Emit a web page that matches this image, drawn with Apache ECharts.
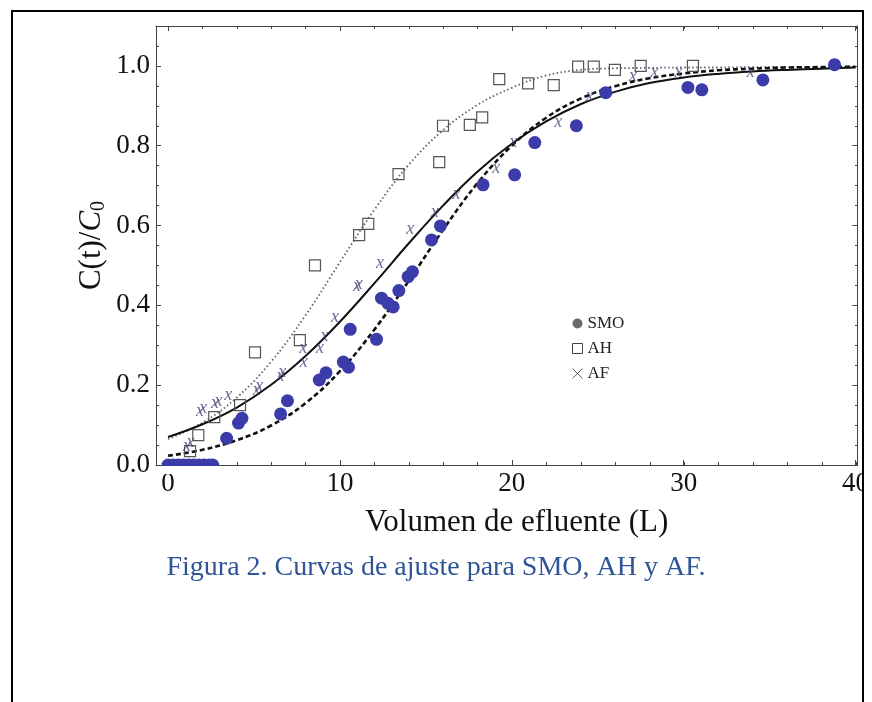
<!DOCTYPE html>
<html><head><meta charset="utf-8">
<script src="https://cdn.jsdelivr.net/npm/echarts@6/dist/echarts.min.js"></script>
<style>html,body{margin:0;padding:0;background:#fff}#c{width:872px;height:702px}</style>
</head><body><div id="c"></div>
<script>
// ---- data ----
const curveX   = [0,2,4,6,8,10,12,14,16,18,20,22,24,26,28,30,32,34,36,38,40];
const fitAF    = [0.070,0.102,0.144,0.201,0.273,0.359,0.455,0.555,0.650,0.735,0.805,0.861,0.904,0.935,0.957,0.971,0.980,0.986,0.990,0.993,0.996]; // solid
const fitSMO   = [0.023,0.038,0.062,0.099,0.155,0.235,0.339,0.461,0.589,0.706,0.800,0.870,0.918,0.949,0.969,0.981,0.989,0.993,0.996,0.997,0.998]; // dashed
const fitAH    = [0.065,0.106,0.169,0.259,0.375,0.508,0.639,0.752,0.839,0.902,0.945,0.976,0.990,0.994,0.995,0.996,0.996,0.997,0.997,0.997,0.997]; // dotted

const smoX = [0,0.3,0.6,0.9,1.2,1.5,1.8,2.1,2.4,2.6,3.41,4.1,4.3,6.55,6.95,8.8,9.19,10.2,10.5,10.6,12.13,12.42,12.8,13.1,13.43,13.97,14.22,15.33,15.85,18.33,20.17,21.34,23.76,25.47,30.25,31.06,34.61,38.78];
const smoY = [0,0,0,0,0,0,0,0,0,0,0.067,0.105,0.117,0.128,0.161,0.213,0.231,0.258,0.245,0.340,0.315,0.418,0.405,0.396,0.437,0.472,0.484,0.564,0.599,0.702,0.727,0.808,0.850,0.933,0.946,0.940,0.965,1.003];

const ahX = [1.28,1.76,2.69,4.19,5.06,7.67,8.55,11.12,11.65,13.41,15.78,16.0,17.56,18.28,19.27,20.95,22.44,23.86,24.77,26.0,27.5,30.54];
const ahY = [0.035,0.075,0.120,0.150,0.282,0.313,0.500,0.576,0.604,0.729,0.759,0.850,0.852,0.871,0.967,0.956,0.952,0.998,0.998,0.990,1.000,1.000];

const afX = [1.1,1.3,1.86,2.05,2.73,2.93,3.5,5.16,5.3,6.55,6.65,7.87,7.9,8.84,9.1,9.71,11.0,11.1,12.33,14.1,15.52,16.78,19.1,20.08,22.7,24.53,27.05,28.3,29.7,33.9];
const afY = [0.040,0.050,0.128,0.134,0.146,0.153,0.166,0.180,0.190,0.215,0.225,0.284,0.250,0.284,0.315,0.363,0.440,0.446,0.497,0.582,0.627,0.671,0.735,0.800,0.852,0.917,0.967,0.977,0.977,0.977];

const xMajor = [0,10,20,30,40];
const xMinor = [0,2,4,6,8,10,12,14,16,18,20,22,24,26,28,30,32,34,36,38,40];
const yMajor = [0,0.2,0.4,0.6,0.8,1.0];
const yMinor = [0,0.05,0.1,0.15,0.2,0.25,0.3,0.35,0.4,0.45,0.5,0.55,0.6,0.65,0.7,0.75,0.8,0.85,0.9,0.95,1.0,1.05,1.1];

const pairs = (xs, ys) => xs.map((x, i) => [x, ys[i]]);
const SERIF = '"Liberation Serif","Times New Roman",serif';
const AXC = '#444';
const X0 = -0.7, X1 = 40.1, Y0 = 0, Y1 = 1.1;
const GRID = {left:156, right:14, top:26, bottom:237};

function xAx(grid, pos, ticks, len, labels, line) {
  return {type:'value', gridIndex:grid, position:pos, min:X0, max:X1,
    axisLine:{show:line, onZero:false, lineStyle:{color:AXC, width:1}},
    axisTick:{show:true, inside:true, length:len, customValues:ticks, lineStyle:{color:AXC, width:1}},
    axisLabel:{show:labels, customValues:xMajor, margin:5, fontFamily:SERIF, fontSize:27, color:'#111', formatter:v=>String(v)},
    splitLine:{show:false}};
}
function yAx(grid, pos, ticks, len, labels, line) {
  return {type:'value', gridIndex:grid, position:pos, min:Y0, max:Y1,
    axisLine:{show:line, onZero:false, lineStyle:{color:AXC, width:1}},
    axisTick:{show:true, inside:true, length:len, customValues:ticks, lineStyle:{color:AXC, width:1}},
    axisLabel:{show:labels, customValues:yMajor, margin:6, fontFamily:SERIF, fontSize:27, color:'#111', formatter:v=>v.toFixed(1)},
    splitLine:{show:false}};
}

const xMain = xAx(0,'bottom',xMajor,5,true,true);
xMain.name = 'Volumen de efluente (L)';
xMain.nameLocation = 'middle';
xMain.nameGap = 42;
xMain.nameMoveOverlap = false;
xMain.nameTextStyle = {fontFamily:SERIF, fontSize:31, color:'#111', padding:[0,0,0,20]};
const yMain = yAx(0,'left',yMajor,5,true,true);
yMain.name = '{a|C(t)/}{b|C}{c|0}';
yMain.nameLocation = 'middle';
yMain.nameGap = 47;
yMain.nameMoveOverlap = false;
yMain.nameTextStyle = {rich:{
  a:{fontFamily:SERIF, fontSize:31, color:'#111', lineHeight:34},
  b:{fontFamily:SERIF, fontSize:31, fontStyle:'italic', color:'#111', lineHeight:34},
  c:{fontFamily:SERIF, fontSize:20, color:'#111', verticalAlign:'bottom', lineHeight:20}
}};

const chart = echarts.init(document.getElementById('c'), null, {renderer:'canvas'});
const option = {
  animation:false,
  backgroundColor:'#fff',
  title:{text:'Figura 2. Curvas de ajuste para SMO, AH y AF.', left:'center', top:549,
    textStyle:{fontFamily:SERIF, fontSize:28, fontWeight:'normal', color:'#2f5597'}},
  grid:[Object.assign({}, GRID), Object.assign({}, GRID)],
  xAxis:[xMain, xAx(0,'top',xMajor,5,false,true), xAx(1,'bottom',xMinor,3,false,false), xAx(1,'top',xMinor,3,false,false)],
  yAxis:[yMain, yAx(0,'right',yMajor,5,false,true), yAx(1,'left',yMinor,3,false,false), yAx(1,'right',yMinor,3,false,false)],
  legend:{orient:'vertical', left:567, top:310, itemWidth:10, itemHeight:10, itemGap:8,
    textStyle:{fontFamily:SERIF, fontSize:17, color:'#222'},
    data:[
      {name:'SMO', icon:'circle', itemStyle:{color:'#6a6a6a', borderWidth:0, opacity:1}},
      {name:'AH', icon:'rect', itemStyle:{color:'rgba(0,0,0,0)', borderColor:'#444', borderWidth:1}},
      {name:'AF', icon:'path://M0,0L10,10M10,0L0,10', itemStyle:{color:'rgba(0,0,0,0)', borderColor:'#333', borderWidth:1}}
    ]},
  series:[
    {name:'fitAH', type:'line', xAxisIndex:0, yAxisIndex:0, data:pairs(curveX, fitAH), smooth:0.4, showSymbol:false, symbol:'none',
      lineStyle:{color:'#5f5f75', width:1.8, type:[1.5,2.5]}, z:1, silent:true},
    {name:'fitSMO', type:'line', xAxisIndex:0, yAxisIndex:0, data:pairs(curveX, fitSMO), smooth:0.4, showSymbol:false, symbol:'none',
      lineStyle:{color:'#111', width:2.6, type:[5,3]}, z:1, silent:true},
    {name:'fitAF', type:'line', xAxisIndex:0, yAxisIndex:0, data:pairs(curveX, fitAF), smooth:0.4, showSymbol:false, symbol:'none',
      lineStyle:{color:'#111', width:2}, z:1, silent:true},
    {name:'AH', type:'scatter', xAxisIndex:0, yAxisIndex:0, data:pairs(ahX, ahY), symbol:'rect', symbolSize:11,
      itemStyle:{color:'rgba(0,0,0,0)', borderColor:'#555', borderWidth:1.2, opacity:1}, z:3},
    {name:'AF', type:'scatter', xAxisIndex:0, yAxisIndex:0, data:pairs(afX, afY), symbol:'path://M0,0L10,10M10,0L0,10', symbolSize:8,
      itemStyle:{color:'rgba(0,0,0,0)', borderColor:'rgba(0,0,0,0)'},
      label:{show:true, position:'inside', formatter:'x', offset:[0,-3], fontFamily:SERIF, fontStyle:'italic', fontSize:18, color:'#45457e'}, z:4},
    {name:'SMO', type:'scatter', xAxisIndex:0, yAxisIndex:0, data:pairs(smoX, smoY), symbol:'circle', symbolSize:13,
      itemStyle:{color:'#3b3baa', opacity:1}, z:5}
  ]
};
chart.setOption(option);

// white mask below the x axis so the y=0 circles look clipped by the frame; page border clipping the right edge
const p0 = chart.convertToPixel({xAxisIndex:0, yAxisIndex:0}, [X0, 0]);
chart.setOption({graphic:[
  {type:'rect', z:100, silent:true, shape:{x:p0[0]+1, y:p0[1]+1, width:90, height:8}, style:{fill:'#fff'}},
  {type:'rect', z:100, silent:true, shape:{x:864, y:0, width:20, height:702}, style:{fill:'#fff'}},
  {type:'rect', z:101, silent:true, shape:{x:12, y:11, width:851, height:720}, style:{fill:'none', stroke:'#000', lineWidth:2}}
]});
</script>
</body></html>
